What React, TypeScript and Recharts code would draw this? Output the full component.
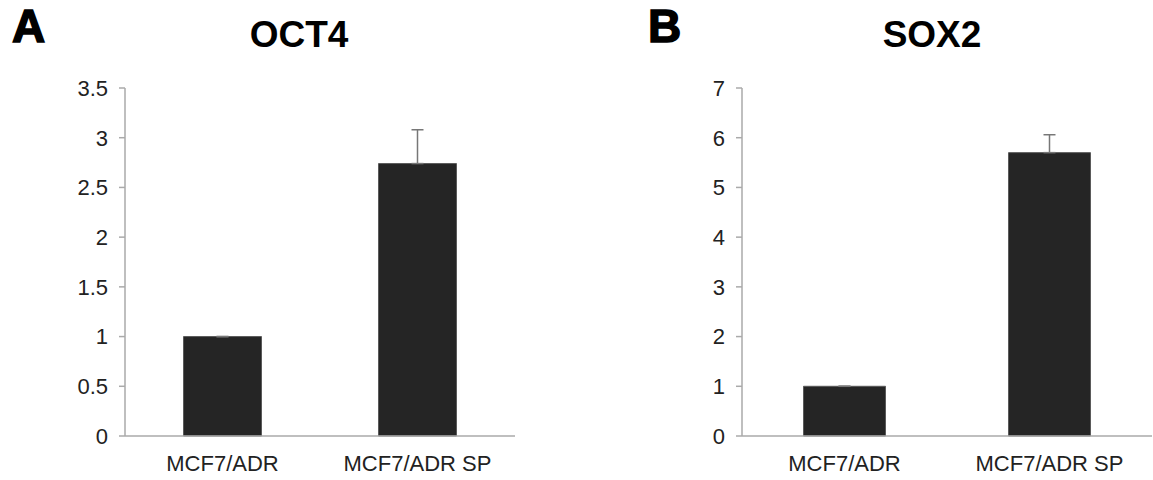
import React from 'react';
import { BarChart, Bar, XAxis, YAxis, ErrorBar } from 'recharts';

const categories = ['MCF7/ADR', 'MCF7/ADR SP'];
const oct4Values = [1, 2.74];
const oct4ErrUp = [0, 0.34];
const sox2Values = [1, 5.7];
const sox2ErrUp = [0, 0.36];
const oct4Ticks = [0, 0.5, 1, 1.5, 2, 2.5, 3, 3.5];
const sox2Ticks = [0, 1, 2, 3, 4, 5, 6, 7];
const edgeTicks = [0, 1, 2];

const oct4Data = categories.map((c, i) => ({ name: c, value: oct4Values[i], err: [0, oct4ErrUp[i]] }));
const sox2Data = categories.map((c, i) => ({ name: c, value: sox2Values[i], err: [0, sox2ErrUp[i]] }));

const FONT = '"Liberation Sans", Arial, sans-serif';
const AXIS = '#aaaaaa';
const TXT = '#222222';

function Panel({ data, ticks, width, yWidth, rightMargin }: any) {
  const max = ticks[ticks.length - 1];
  return (
    <BarChart
      width={width}
      height={480}
      data={data}
      margin={{ top: 88, bottom: 0, left: 0, right: rightMargin }}
      barCategoryGap="30%"
    >
      <XAxis
        dataKey="name"
        xAxisId={0}
        height={44}
        axisLine={{ stroke: AXIS, strokeWidth: 1.5 }}
        tickLine={false}
        tickSize={0}
        tickMargin={19}
        tick={{ fill: TXT, fontSize: 22, fontFamily: FONT }}
      />
      <XAxis
        xAxisId="edge"
        type="number"
        domain={[0, 2]}
        ticks={edgeTicks}
        axisLine={false}
        tickLine={{ stroke: AXIS, strokeWidth: 1.5 }}
        tickSize={6}
        tickFormatter={() => ''}
        height={0}
      />
      <YAxis
        width={yWidth}
        domain={[0, max]}
        ticks={ticks}
        interval={0}
        axisLine={{ stroke: AXIS, strokeWidth: 1.5 }}
        tickLine={{ stroke: AXIS, strokeWidth: 1.5 }}
        tickSize={6}
        tickMargin={11}
        tick={{ fill: TXT, fontSize: 22, fontFamily: FONT }}
      />
      <Bar dataKey="value" xAxisId={0} fill="#252525" stroke="#5a5a5a" strokeWidth={1} isAnimationActive={false}>
        <ErrorBar dataKey="err" direction="y" width={6} stroke="#777777" strokeWidth={1.5} isAnimationActive={false} />
      </Bar>
    </BarChart>
  );
}

export default function App() {
  return (
    <div style={{ position: 'absolute', left: 0, top: 0, width: 1153, height: 480, background: '#fff', overflow: 'hidden' }}>
      <div style={{ position: 'absolute', left: 0, top: 0 }}>
        <Panel data={oct4Data} ticks={oct4Ticks} width={560} yWidth={125} rightMargin={45} />
      </div>
      <div style={{ position: 'absolute', left: 580, top: 0 }}>
        <Panel data={sox2Data} ticks={sox2Ticks} width={573} yWidth={162} rightMargin={1} />
      </div>
      <svg width={1153} height={480} style={{ position: 'absolute', left: 0, top: 0, pointerEvents: 'none' }}>
        <text x={12} y={42} fontFamily={FONT} fontWeight="bold" fontSize={46} fill="#000" stroke="#000" strokeWidth={1.5}>A</text>
        <text x={299} y={47} textAnchor="middle" fontFamily={FONT} fontWeight="bold" fontSize={37} fill="#000">OCT4</text>
        <text x={648} y={42} fontFamily={FONT} fontWeight="bold" fontSize={46} fill="#000" stroke="#000" strokeWidth={1.5}>B</text>
        <text x={932} y={47} textAnchor="middle" fontFamily={FONT} fontWeight="bold" fontSize={37} fill="#000">SOX2</text>
      </svg>
    </div>
  );
}
